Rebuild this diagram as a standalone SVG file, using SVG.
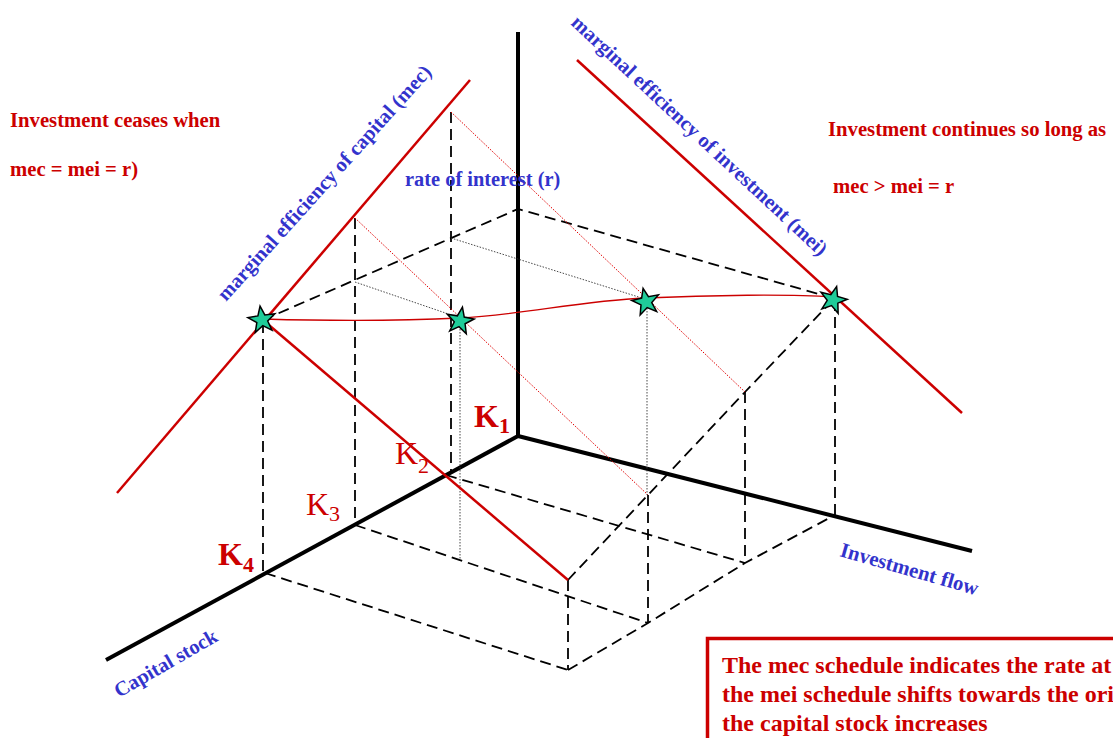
<svg xmlns="http://www.w3.org/2000/svg" width="1113" height="738" viewBox="0 0 1113 738">
<defs>
<style>
.axis{stroke:#000;stroke-width:4;fill:none;stroke-linecap:butt}
.dash{stroke:#000;stroke-width:1.8;fill:none;stroke-dasharray:11 6}
.red{stroke:#CC0000;stroke-width:2.5;fill:none}
.rdot{stroke:#E00000;stroke-width:1;fill:none;stroke-dasharray:1.5 1.5}
.gdot{stroke:#333;stroke-width:0.9;fill:none;stroke-dasharray:1.5 1.5}
.star{fill:#1FCC99;stroke:#000;stroke-width:1.5;stroke-linejoin:miter}
.rt{font-family:"Liberation Serif",serif;font-weight:bold;fill:#CC0000;font-size:20.7px}
.bt{font-family:"Liberation Serif",serif;font-weight:bold;fill:#3333CC;font-size:20.4px}
.k{font-family:"Liberation Serif",serif;fill:#CC0000;font-size:32px}
</style>
<polygon id="st" points="0,-14 3.5,-4.6 13.6,-4.4 5.5,1.8 8.4,11.5 0,5.7 -8.4,11.5 -5.5,1.8 -13.6,-4.4 -3.5,-4.6"/>
</defs>
<rect width="1113" height="738" fill="#fff"/>

<g id="connectors">
<!-- axes -->
<line class="axis" x1="518" y1="32" x2="518" y2="437"/>
<line class="axis" x1="518" y1="436" x2="106" y2="660"/>
<line class="axis" x1="518" y1="436" x2="972" y2="551"/>
<!-- rate of interest plane -->
<polyline class="dash" points="263,320 518,209 833,298"/>
<!-- verticals -->
<line class="dash" x1="263" y1="322" x2="263" y2="573"/>
<line class="dash" x1="355" y1="218" x2="355" y2="525"/>
<line class="dash" x1="451" y1="112" x2="451" y2="474"/>
<line class="dash" x1="568" y1="580" x2="568" y2="670"/>
<line class="dash" x1="648" y1="495" x2="648" y2="623"/>
<line class="dash" x1="745" y1="392" x2="745" y2="563"/>
<line class="dash" x1="835" y1="300" x2="835" y2="515"/>
<!-- floor -->
<line class="dash" x1="265" y1="573" x2="568" y2="670"/>
<line class="dash" x1="355" y1="525" x2="648" y2="623"/>
<line class="dash" x1="446" y1="475" x2="745" y2="563"/>
<polyline class="dash" points="568,670 648,623 745,563 835,515"/>
<polyline class="dash" points="568,580 648,495 745,392 833,300"/>
<!-- dotted -->
<line class="rdot" x1="355" y1="218" x2="648" y2="495"/>
<line class="rdot" x1="451" y1="112" x2="745" y2="392"/>
<line class="gdot" x1="355" y1="282" x2="460" y2="318"/>
<line class="gdot" x1="451" y1="238" x2="645" y2="299"/>
<line class="gdot" x1="460" y1="320" x2="460" y2="560"/>
<line class="gdot" x1="647" y1="302" x2="647" y2="495"/>
<!-- schedules -->
<line class="red" x1="117" y1="493" x2="470" y2="80"/>
<line class="red" x1="263" y1="320" x2="568" y2="580"/>
<line class="red" x1="577" y1="60" x2="962" y2="413"/>
<path class="red" style="stroke-width:1.3" d="M263,319 C330,321 400,321 460,318 S580,301 645,298 S790,294 833,297"/>
</g>

<g id="stars">
<use href="#st" class="star" transform="translate(262,320) rotate(-8)"/>
<use href="#st" class="star" transform="translate(460,321) rotate(10)"/>
<use href="#st" class="star" transform="translate(646,302) rotate(-12)"/>
<use href="#st" class="star" transform="translate(833,300) rotate(15)"/>
</g>

<g id="note-left">
<text class="rt" x="10" y="127">Investment ceases when</text>
<text class="rt" x="10" y="176">mec = mei = r)</text>
</g>
<g id="note-right">
<text class="rt" x="828" y="136">Investment continues so long as</text>
<text class="rt" x="833" y="193">mec &gt; mei = r</text>
</g>

<g id="labels">
<text class="bt" x="405" y="186">rate of interest (r)</text>
<text class="bt" transform="translate(226,302) rotate(-48)" style="font-size:20.5px">marginal efficiency of capital (mec)</text>
<text class="bt" transform="translate(570,24) rotate(43)" style="font-size:20.5px">marginal efficiency of investment (mei)</text>
<text class="bt" transform="translate(119,698) rotate(-30)" style="font-size:20.5px">Capital stock</text>
<text class="bt" transform="translate(839,556) rotate(16)" style="font-size:20.8px">Investment flow</text>
</g>

<g id="k-labels">
<text class="k" x="474" y="427" font-weight="bold">K<tspan font-size="22" dy="6">1</tspan></text>
<text class="k" x="395" y="464">K<tspan font-size="22" dy="9">2</tspan></text>
<text class="k" x="306" y="515">K<tspan font-size="22" dy="6">3</tspan></text>
<text class="k" x="218" y="565" font-weight="bold">K<tspan font-size="22" dy="7">4</tspan></text>
</g>

<g id="note-box">
<rect x="707.5" y="638.5" width="420" height="120" fill="none" stroke="#CC0000" stroke-width="3.5"/>
<text class="rt" x="722" y="673" style="font-size:24px">The mec schedule indicates the rate at</text>
<text class="rt" x="722" y="702" style="font-size:24px">the mei schedule shifts towards the ori</text>
<text class="rt" x="722" y="731" style="font-size:24px">the capital stock increases</text>
</g>
</svg>
